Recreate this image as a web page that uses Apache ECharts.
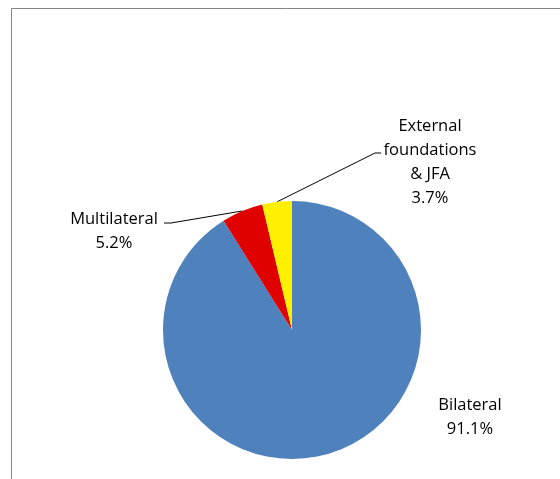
<!DOCTYPE html>
<html>
<head>
<meta charset="utf-8">
<script src="https://cdn.jsdelivr.net/npm/echarts@6/dist/echarts.min.js"></script>
<style>
  html, body { margin: 0; padding: 0; background: #ffffff; }
  #chart { width: 560px; height: 479px; }
</style>
</head>
<body>
<div id="chart"></div>
<script>
// Shares of funding by channel (percent)
const categories = ['Bilateral', 'Multilateral', 'External\nfoundations\n& JFA'];
const shares = [91.1, 5.2, 3.7];
const sliceColors = ['#4F81BD', '#E00000', '#FFF000'];

// Where each label block sits, and where its leader line meets it
const labelPlacement = {
  'Bilateral':    { x: 470, y: 417, line: false },
  'Multilateral': { x: 114, y: 231, line: true, hook: [[171, 223], [164, 223]] },
  'External\nfoundations\n& JFA': { x: 430, y: 162, line: true, hook: [[375, 153], [381, 153]] }
};

const chart = echarts.init(document.getElementById('chart'), null, { renderer: 'canvas' });

chart.setOption({
  animation: false,
  backgroundColor: '#ffffff',
  graphic: [{
    type: 'rect',
    shape: { x: 11.5, y: 8.5, width: 700, height: 600 },
    style: { fill: 'none', stroke: '#868686', lineWidth: 1 },
    silent: true
  }],
  series: [{
    type: 'pie',
    center: [292, 330],
    radius: 129,
    startAngle: 90,
    clockwise: true,
    avoidLabelOverlap: false,
    itemStyle: { borderWidth: 0 },
    label: {
      show: true,
      position: 'outside',
      formatter: function (p) { return p.name + '\n' + p.value.toFixed(1) + '%'; },
      fontFamily: 'Open Sans',
      fontSize: 16.5,
      lineHeight: 24,
      color: '#000000',
      align: 'center'
    },
    labelLine: {
      show: true,
      length: 10,
      length2: 10,
      lineStyle: { color: '#000000', width: 1 }
    },
    labelLayout: function (params) {
      const name = categories[params.dataIndex];
      const place = labelPlacement[name];
      const out = {
        x: place.x,
        y: place.y,
        align: 'center',
        verticalAlign: 'middle'
      };
      if (place.line && params.labelLinePoints) {
        const start = params.labelLinePoints[0];
        out.labelLinePoints = [start, place.hook[0], place.hook[1]];
      }
      return out;
    },
    data: categories.map(function (c, i) {
      return {
        name: c,
        value: shares[i],
        itemStyle: { color: sliceColors[i] },
        labelLine: { show: labelPlacement[c].line }
      };
    })
  }]
});
</script>
</body>
</html>
